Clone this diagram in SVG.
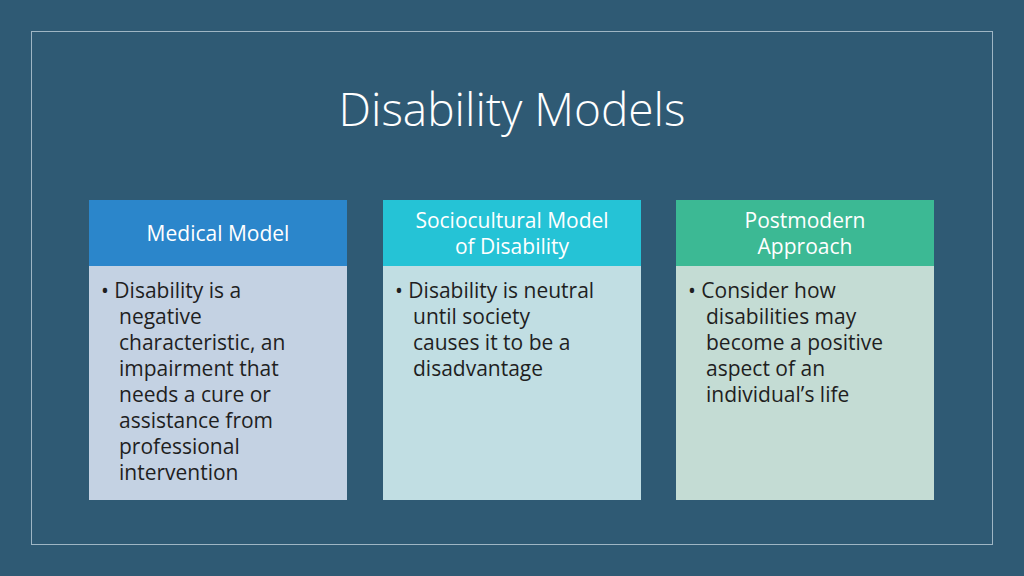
<svg xmlns="http://www.w3.org/2000/svg" width="1024" height="576" viewBox="0 0 1024 576">
<style>
.h{font-family:"Open Sans","Liberation Sans",sans-serif;font-size:21px;fill:#fff;text-anchor:middle}
.b{font-family:"Open Sans","Liberation Sans",sans-serif;font-size:21px;fill:#1f1f1f}
</style>
<rect width="1024" height="576" fill="#2f5a74"/>
<rect x="31.5" y="31.5" width="961" height="513" fill="none" stroke="#9fb6c4" stroke-width="1"/>
<text x="512" y="126" text-anchor="middle" font-family="'Open Sans','Liberation Sans',sans-serif" font-weight="300" font-size="46" fill="#fff">Disability Models</text>
<g id="medical">
<rect x="89" y="200" width="258" height="66" fill="#2b86cb"/>
<rect x="89" y="266" width="258" height="234" fill="#c4d2e3"/>
<text class="h" x="218" y="241">Medical Model</text>
<text class="b"><tspan x="101" y="298">• Disability is a</tspan><tspan x="119" y="324">negative</tspan><tspan x="119" y="350">characteristic, an</tspan><tspan x="119" y="376">impairment that</tspan><tspan x="119" y="402">needs a cure or</tspan><tspan x="119" y="428">assistance from</tspan><tspan x="119" y="454">professional</tspan><tspan x="119" y="480">intervention</tspan></text>
</g>
<g id="sociocultural">
<rect x="383" y="200" width="258" height="66" fill="#25c3d6"/>
<rect x="383" y="266" width="258" height="234" fill="#c1dee3"/>
<text class="h"><tspan x="512" y="228">Sociocultural Model</tspan><tspan x="512" y="254">of Disability</tspan></text>
<text class="b"><tspan x="395" y="298">• Disability is neutral</tspan><tspan x="413" y="324">until society</tspan><tspan x="413" y="350">causes it to be a</tspan><tspan x="413" y="376">disadvantage</tspan></text>
</g>
<g id="postmodern">
<rect x="676" y="200" width="258" height="66" fill="#3cb994"/>
<rect x="676" y="266" width="258" height="234" fill="#c4dcd4"/>
<text class="h"><tspan x="805" y="228">Postmodern</tspan><tspan x="805" y="254">Approach</tspan></text>
<text class="b"><tspan x="688" y="298">• Consider how</tspan><tspan x="706" y="324">disabilities may</tspan><tspan x="706" y="350">become a positive</tspan><tspan x="706" y="376">aspect of an</tspan><tspan x="706" y="402">individual’s life</tspan></text>
</g>
<g id="connectors"/>
</svg>
